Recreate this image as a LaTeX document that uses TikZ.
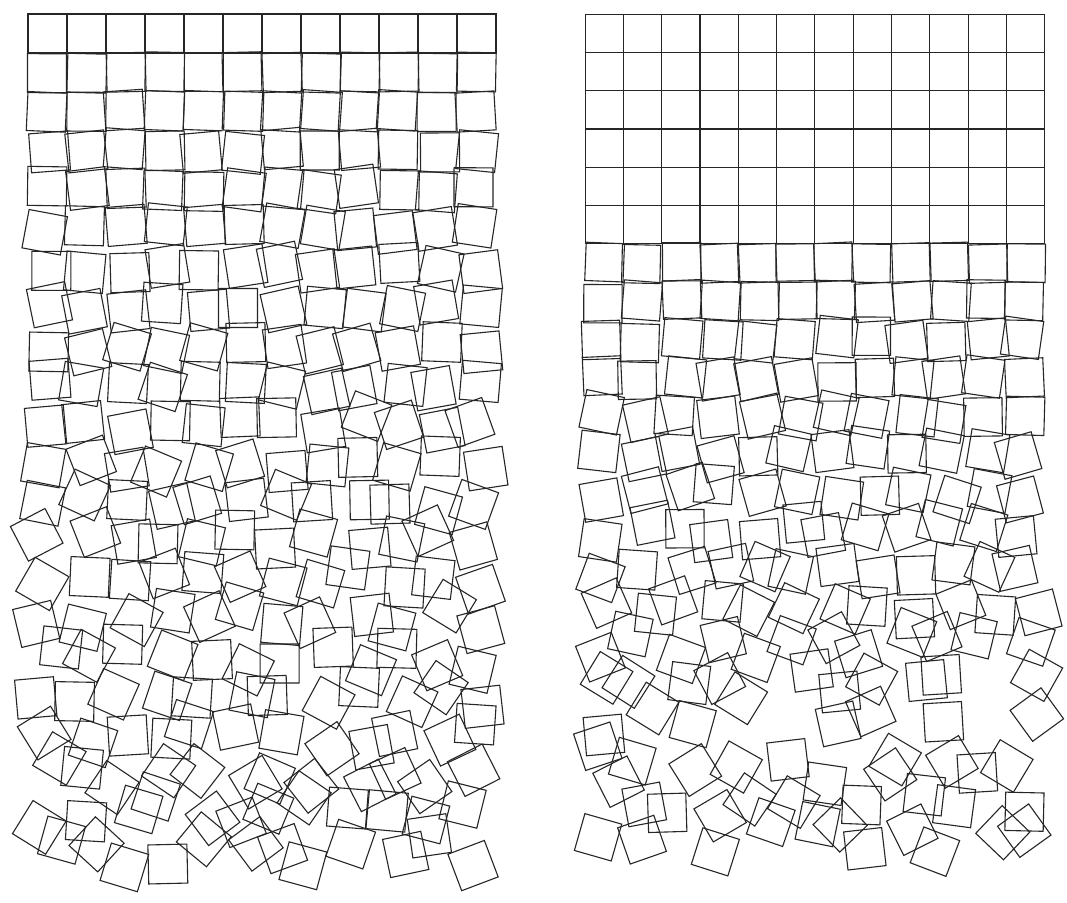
\documentclass[tikz,border=0pt]{standalone}
\begin{document}
\begin{tikzpicture}[x=1pt,y=-1pt,
  sq/.style={draw=black!85, line width=1.1pt}]
\useasboundingbox[fill=white] (0,0) rectangle (1067,902);
\pgfmathsetseed{4711}
% left panel
\foreach \i in {0,...,21}{
  \foreach \j in {0,...,11}{
    \pgfmathsetmacro\k{\i/21}
    \pgfmathsetmacro\cx{47.5+\j*39 + rand*18*\k}
    \pgfmathsetmacro\cy{33.5+\i*39 + rand*18*\k}
    \pgfmathsetmacro\a{rand*45*\k}
    \draw[sq, shift={(\cx,\cy)}, rotate=\a] (-19.5,-19.5) rectangle (19.5,19.5);
  }
}
% right panel
\foreach \i in {0,...,21}{
  \foreach \j in {0,...,11}{
    \pgfmathsetmacro\k{max(0,\i-5)/16}
    \pgfmathsetmacro\cx{604.2+\j*38.3 + rand*22*\k}
    \pgfmathsetmacro\cy{33.2+\i*38.3 + rand*20*\k}
    \pgfmathsetmacro\a{rand*45*\k}
    \pgfmathsetmacro\u{rnd}
    \pgfmathtruncatemacro\skipit{(\i>16)*(\u<0.18) ? 1 : 0}
    \ifnum\skipit=0
    \draw[sq, shift={(\cx,\cy)}, rotate=\a] (-19.15,-19.15) rectangle (19.15,19.15);
    \fi
  }
}
\end{tikzpicture}
\end{document}
